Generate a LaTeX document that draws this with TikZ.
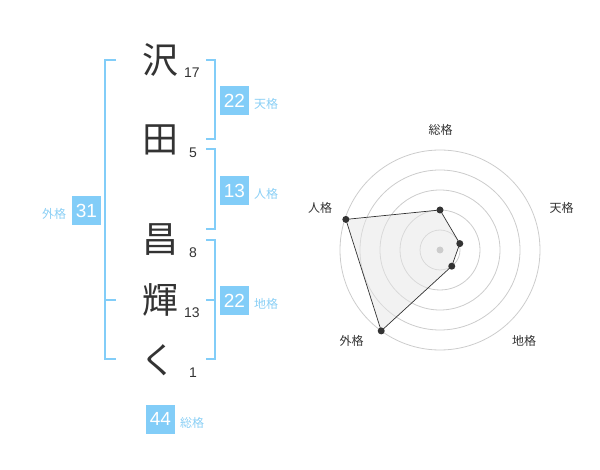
\documentclass[tikz,border=0pt]{standalone}
\usepackage{fontspec}
\setmainfont{Liberation Sans}
\newfontfamily\cjk{Noto Sans CJK JP}
\definecolor{boxblue}{HTML}{82CDF8}
\definecolor{lblblue}{HTML}{8ACFF5}
\definecolor{ink}{HTML}{333333}
\definecolor{ringgray}{HTML}{CCCCCC}
\definecolor{polyfill}{HTML}{E6E6E6}
\tikzset{
  kanji/.style={text=ink, font=\cjk\fontsize{36}{36}\selectfont, inner sep=0pt},
  strokes/.style={text=ink, font=\fontsize{14}{14}\selectfont, inner sep=0pt},
  scorebox/.style={fill=boxblue, text=white, minimum width=29pt, minimum height=29pt, inner sep=0pt, font=\fontsize{19}{19}\selectfont},
  kaku/.style={text=lblblue, font=\cjk\fontsize{12}{12}\selectfont, inner sep=0pt},
  bracket/.style={draw=boxblue, line width=2pt},
  ring/.style={draw=ringgray, line width=0.8pt},
  radarlbl/.style={text=ink, font=\cjk\fontsize{12}{12}\selectfont, inner sep=0pt},
  dot/.style={circle, fill=ink, minimum size=7pt, inner sep=0pt},
}
\begin{document}
\begin{tikzpicture}[x=1pt, y=-1pt]
\useasboundingbox (0,0) rectangle (600,470);
% characters
\node[kanji] (c1) at (160,60) {沢};
\node[kanji] (c2) at (160,140) {田};
\node[kanji] (c3) at (160,240) {昌};
\node[kanji] (c4) at (160,300) {輝};
\node[kanji] (c5) at (158,360) {く};
% stroke counts
\node[strokes] (n1) at (192,73) {17};
\node[strokes] (n2) at (193,153) {5};
\node[strokes] (n3) at (193,253) {8};
\node[strokes] (n4) at (192,313) {13};
\node[strokes] (n5) at (193,373) {1};
% brackets
\draw[bracket] (116,60) -- (105,60) -- (105,359) -- (116,359);
\draw[bracket] (105,300) -- (116,300);
\draw[bracket] (206,60) -- (215,60) -- (215,139) -- (206,139);
\draw[bracket] (206,149) -- (215,149) -- (215,229) -- (206,229);
\draw[bracket] (206,240) -- (215,240) -- (215,359) -- (206,359);
\draw[bracket] (206,300) -- (215,300);
% score boxes
\node[scorebox] (ten) at (234.5,100.5) {22};
\node[kaku] (tenl) at (266,104) {天格};
\node[scorebox] (jin) at (234.5,190.5) {13};
\node[kaku] (jinl) at (266,194) {人格};
\node[scorebox] (chi) at (234.5,300.5) {22};
\node[kaku] (chil) at (266,304) {地格};
\node[scorebox] (gai) at (86.5,210.5) {31};
\node[kaku] (gail) at (54,214) {外格};
\node[scorebox] (sou) at (160.5,419) {44};
\node[kaku] (soul) at (192,423) {総格};
% radar
\begin{scope}[shift={(440,250)}, y=1pt]
  \foreach \r in {20,40,60,80,100} \draw[ring] (0,0) circle (\r);
  \coordinate (ps) at (90:40);
  \coordinate (pt) at (18:20.8);
  \coordinate (pc) at (-54:20);
  \coordinate (pg) at (-126:100);
  \coordinate (pj) at (162:99);
  \fill[polyfill, fill opacity=0.5] (ps) -- (pt) -- (pc) -- (pg) -- (pj) -- cycle;
  \draw[draw=ink, line width=0.7pt] (ps) -- (pt) -- (pc) -- (pg) -- (pj) -- cycle;
  \node[circle, fill=ringgray, minimum size=7pt, inner sep=0pt] (ctr) at (0,0) {};
  \foreach \p in {ps,pt,pc,pg,pj} \node[dot] at (\p) {};
  \node[radarlbl] (rs) at (0.7,120) {総格};
  \node[radarlbl] (rt) at (121.7,41.7) {天格};
  \node[radarlbl] (rc) at (84,-90.7) {地格};
  \node[radarlbl] (rg) at (-88.3,-90.7) {外格};
  \node[radarlbl] (rj) at (-120,41.7) {人格};
\end{scope}
\end{tikzpicture}
\end{document}
